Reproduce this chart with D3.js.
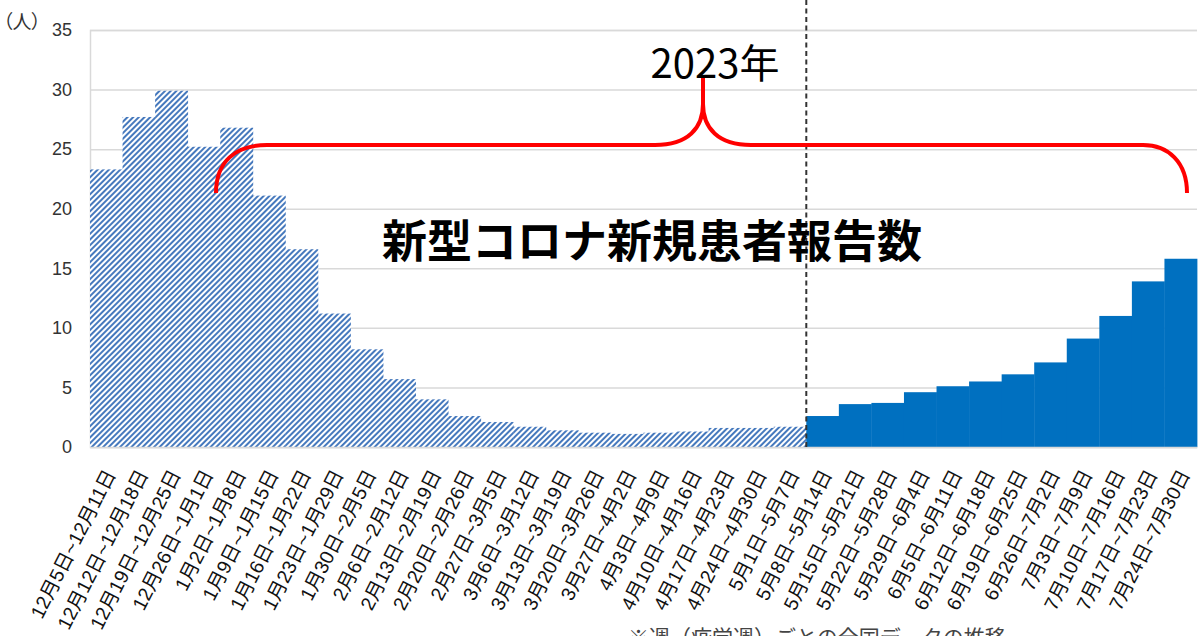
<!DOCTYPE html>
<html lang="ja">
<head>
<meta charset="utf-8">
<script src="https://cdn.jsdelivr.net/npm/d3@7"></script>
<style>
  html, body { margin: 0; padding: 0; background: #fff; overflow: hidden; }
  svg { display: block; }
  .tick text { font-family: "Liberation Sans", "Noto Sans CJK JP", sans-serif; fill: #333; }
</style>
</head>
<body>
<div id="chart"></div>
<script>
// ========================================
// Data (weekly reports, 人)
// ========================================
const weekLabels = [
  '12月5日~12月11日', '12月12日~12月18日', '12月19日~12月25日', '12月26日~1月1日',
  '1月2日~1月8日', '1月9日~1月15日', '1月16日~1月22日', '1月23日~1月29日',
  '1月30日~2月5日', '2月6日~2月12日', '2月13日~2月19日', '2月20日~2月26日',
  '2月27日~3月5日', '3月6日~3月12日', '3月13日~3月19日', '3月20日~3月26日',
  '3月27日~4月2日', '4月3日~4月9日', '4月10日~4月16日', '4月17日~4月23日',
  '4月24日~4月30日', '5月1日~5月7日', '5月8日~5月14日', '5月15日~5月21日',
  '5月22日~5月28日', '5月29日~6月4日', '6月5日~6月11日', '6月12日~6月18日',
  '6月19日~6月25日', '6月26日~7月2日', '7月3日~7月9日', '7月10日~7月16日',
  '7月17日~7月23日', '7月24日~7月30日'
];
// hatched bars: up to 5月7日
const pastValues = [23.3, 27.7, 29.9, 25.2, 26.8, 21.1, 16.6, 11.2, 8.2, 5.7, 4.0,
  2.6, 2.1, 1.7, 1.4, 1.2, 1.1, 1.2, 1.3, 1.6, 1.6, 1.7];
// solid bars: from 5月8日
const currentValues = [2.6, 3.6, 3.7, 4.6, 5.1, 5.5, 6.1, 7.1, 9.1, 11.0, 13.9, 15.8];
const yTicks = [0, 5, 10, 15, 20, 25, 30, 35];

const yUnitLabel = '（人）',
  yearLabel = '2023年',
  titleLabel = '新型コロナ新規患者報告数',
  noteLabel = '※週（疫学週）ごとの全国データの推移';

// ========================================
// Dimensions
// ========================================
const
  svgWidth = 1200,
  svgHeight = 636,
  plotLeft = 90,       // plot left edge
  plotRight = 1197,    // plot right edge
  plotTop = 30,        // y of the 35 line
  plotBottom = 447,    // y of the 0 line
  cjk = '"Noto Sans CJK JP", sans-serif';

const svg = d3.select('#chart')
  .append('svg')
    .attr('width', svgWidth)
    .attr('height', svgHeight);

// hatch pattern for the old period
svg.append('defs')
  .append('pattern')
    .attr('id', 'hatch')
    .attr('patternUnits', 'userSpaceOnUse')
    .attr('width', 4)
    .attr('height', 4)
    .attr('patternTransform', 'rotate(45)')
  .call(p => p.append('rect').attr('width', 4).attr('height', 4).attr('fill', '#fff'))
  .call(p => p.append('rect').attr('width', 2).attr('height', 4).attr('fill', '#4679bd'));

// ========================================
// Scales
// ========================================
const xScale = d3.scaleBand().domain(weekLabels).range([plotLeft, plotRight]).padding(0);
const yScale = d3.scaleLinear().domain([0, 35]).range([plotBottom, plotTop]);

// --- Y axis + grid
svg.append('g')
    .attr('transform', 'translate(' + plotLeft + ',0)')
    .call(d3.axisLeft(yScale).tickValues(yTicks).tickSize(-(plotRight - plotLeft)).tickPadding(18))
    .call(g => g.select('.domain').attr('stroke', '#d9d9d9').attr('stroke-width', 1.5))
    .call(g => g.selectAll('.tick line').attr('stroke', '#d9d9d9').attr('stroke-width', 1.5))
    .call(g => g.selectAll('.tick text').style('font-size', '18px'));

// ========================================
// Bars
// ========================================
const bars = weekLabels.map((w, i) => ({
  week: w,
  value: i < pastValues.length ? pastValues[i] : currentValues[i - pastValues.length],
  past: i < pastValues.length
}));

svg.append('g')
  .selectAll('rect')
  .data(bars)
  .enter()
  .append('rect')
    .attr('x', d => xScale(d.week))
    .attr('y', d => yScale(d.value))
    .attr('width', xScale.bandwidth() + 0.4)
    .attr('height', d => yScale(0) - yScale(d.value))
    .attr('fill', d => d.past ? 'url(#hatch)' : '#0070c0');

// --- X axis (rotated week labels)
svg.append('g')
    .attr('transform', 'translate(0,' + plotBottom + ')')
    .call(d3.axisBottom(xScale).tickSize(0).tickSizeOuter(0))
    .call(g => g.select('.domain').attr('stroke', '#d9d9d9').attr('stroke-width', 1.5))
    .call(g => g.selectAll('.tick text')
      .attr('y', 0)
      .attr('dy', 0)
      .attr('transform', 'translate(10,27) rotate(-63)')
      .style('text-anchor', 'end')
      .style('font-size', '19.5px')
      .style('fill', '#111'));

// dashed separator between the two periods
const splitX = xScale(weekLabels[pastValues.length]);
svg.append('line')
    .attr('x1', splitX).attr('x2', splitX)
    .attr('y1', 0).attr('y2', plotBottom)
    .attr('stroke', '#333')
    .attr('stroke-width', 2)
    .attr('stroke-dasharray', '5,3.5');

// ========================================
// Texts
// ========================================
svg.append('text')
    .attr('x', 3)
    .attr('y', 29)
    .style('font-family', cjk)
    .style('font-size', '19px')
    .style('font-feature-settings', '"palt"')
    .attr('fill', '#333')
    .text(yUnitLabel);

// red brace
svg.append('path')
    .attr('d', 'M216,193 C216,162 235,145 267,145 L655,145 C688,145 703,128 703,104 L703,78'
      + ' M703,104 C703,128 718,145 751,145 L1143,145 C1168,145 1187,162 1187,193')
    .attr('fill', 'none')
    .attr('stroke', '#ff0000')
    .attr('stroke-width', 4);

svg.append('text')
    .attr('x', 715)
    .attr('y', 78)
    .attr('text-anchor', 'middle')
    .style('font-family', cjk)
    .style('font-size', '40px')
    .attr('fill', '#000')
    .text(yearLabel);

svg.append('text')
    .attr('x', 652)
    .attr('y', 258)
    .attr('text-anchor', 'middle')
    .style('font-family', cjk)
    .style('font-size', '45px')
    .style('font-weight', 'bold')
    .attr('fill', '#000')
    .text(titleLabel);

svg.append('text')
    .attr('x', 628)
    .attr('y', 645)
    .style('font-family', cjk)
    .style('font-size', '21px')
    .attr('fill', '#444')
    .text(noteLabel);
</script>
</body>
</html>
